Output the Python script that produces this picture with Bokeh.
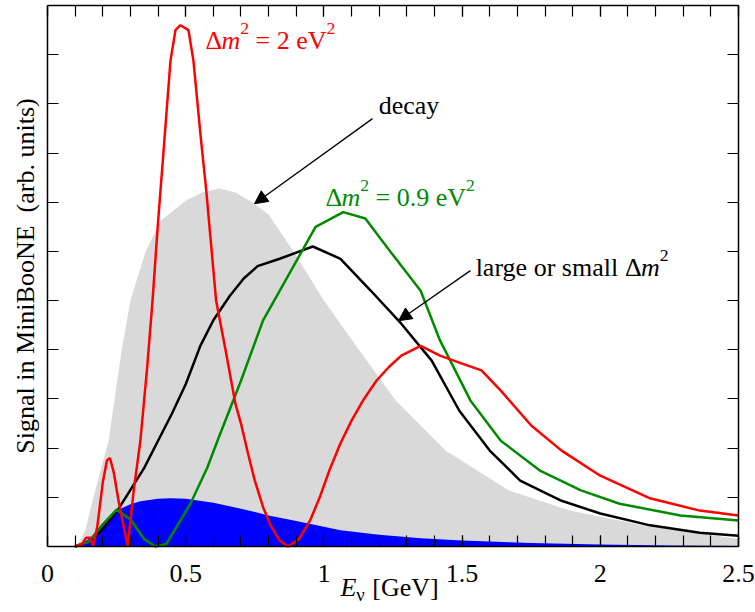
from bokeh.plotting import figure
from bokeh.models import (Range1d, LinearAxis, FixedTicker, CustomJSTickFormatter,
                          Label, Arrow, NormalHead)
from bokeh.embed import file_html
from bokeh.resources import INLINE

# ---------------- data ----------------
decay_E = [0.10, 0.12, 0.137, 0.163, 0.192, 0.221, 0.242, 0.268, 0.30, 0.355, 0.41, 0.50,
           0.56, 0.62, 0.68, 0.74, 0.80, 0.89, 1.00, 1.12, 1.26, 1.44, 1.67, 1.89, 2.15, 2.50]
decay_S = [0.0, 0.12, 0.33, 0.93, 1.54, 2.15, 2.97, 3.98, 5.0, 6.0, 6.63, 7.03,
           7.2, 7.28, 7.2, 7.0, 6.75, 6.0, 5.0, 4.05, 2.97, 1.95, 1.14, 0.73, 0.43, 0.15]

blue_E = [0.10, 0.13, 0.156, 0.19, 0.217, 0.264, 0.30, 0.336, 0.40, 0.445, 0.50, 0.60,
          0.70, 0.80, 0.90, 1.06, 1.20, 1.35, 1.50, 1.75, 2.00, 2.25, 2.50]
blue_S = [0.0, 0.08, 0.18, 0.38, 0.53, 0.77, 0.86, 0.92, 0.97, 0.98, 0.97, 0.89,
          0.77, 0.63, 0.52, 0.33, 0.24, 0.17, 0.12, 0.07, 0.04, 0.02, 0.01]

black_E = [0.10, 0.15, 0.20, 0.253, 0.30, 0.35, 0.40, 0.45, 0.50, 0.553, 0.60, 0.66,
           0.71, 0.76, 0.84, 0.96, 1.06, 1.17, 1.28, 1.39, 1.49, 1.60, 1.71, 1.86,
           2.00, 2.18, 2.36, 2.50]
black_S = [0.0, 0.1, 0.35, 0.73, 1.15, 1.6, 2.15, 2.7, 3.3, 4.08, 4.6, 5.1,
           5.45, 5.7, 5.85, 6.1, 5.85, 5.2, 4.53, 3.78, 2.76, 1.95, 1.34, 0.93,
           0.67, 0.43, 0.28, 0.22]

green_E = [0.10, 0.15, 0.20, 0.25, 0.30, 0.35, 0.39, 0.43, 0.517, 0.578, 0.615, 0.70,
           0.78, 0.88, 0.97, 1.07, 1.15, 1.24, 1.35, 1.42, 1.53, 1.64, 1.78, 1.93,
           2.07, 2.29, 2.50]
green_S = [0.0, 0.1, 0.45, 0.75, 0.55, 0.15, 0.0, 0.05, 0.87, 1.6, 2.15, 3.37,
           4.6, 5.6, 6.5, 6.8, 6.67, 6.0, 5.2, 4.19, 2.97, 2.15, 1.55, 1.14,
           0.87, 0.63, 0.53]

red_E = [0.10, 0.125, 0.14, 0.155, 0.165, 0.18, 0.20, 0.215, 0.226, 0.24, 0.258, 0.276,
         0.29, 0.312, 0.336, 0.36, 0.38, 0.40, 0.42, 0.445, 0.463, 0.481, 0.51, 0.528,
         0.553, 0.575, 0.61, 0.644, 0.68, 0.70, 0.725, 0.75, 0.78, 0.807, 0.84, 0.87,
         0.91, 0.95, 0.985, 1.02, 1.06, 1.10, 1.145, 1.19, 1.235, 1.28, 1.35, 1.42,
         1.49, 1.57, 1.64, 1.75, 1.86, 2.00, 2.18, 2.36, 2.50]
red_S = [0.0, 0.05, 0.18, 0.18, 0.0, 0.4, 1.3, 1.75, 1.8, 1.5, 0.9, 0.4,
         0.0, 1.14, 2.15, 3.6, 5.0, 6.6, 8.05, 9.88, 10.5, 10.6, 10.5, 9.88,
         8.4, 7.2, 5.0, 4.0, 2.9, 2.5, 1.9, 1.34, 0.8, 0.43, 0.12, 0.0,
         0.15, 0.53, 1.0, 1.55, 2.1, 2.56, 3.0, 3.37, 3.65, 3.88, 4.08, 3.88,
         3.74, 3.58, 3.17, 2.46, 1.95, 1.44, 0.98, 0.73, 0.63]

x_major = [0, 0.5, 1, 1.5, 2, 2.5]
x_labels = ["0", "0.5", "1", "1.5", "2", "2.5"]
x_minor = [round(0.1 * i, 1) for i in range(26)]
y_major = list(range(12))
X_MIN, X_MAX = 0.0, 2.5
Y_MIN, Y_MAX = 0.0, 11.0

FONT = "Liberation Serif"
FS = 26
W_PX, H_PX = 755, 610
# frame = whole canvas; axes are pinned at the data box edges
PX_PER_X = 276.4
PX_PER_Y = 49.18
LEFT_PX, BASE_PX = 47, 546
x_lo = -LEFT_PX / PX_PER_X
x_hi = (W_PX - LEFT_PX) / PX_PER_X
y_hi = BASE_PX / PX_PER_Y
y_lo = -(H_PX - BASE_PX) / PX_PER_Y

# ---------------- figure ----------------
p = figure(width=W_PX, height=H_PX, output_backend="svg", toolbar_location=None,
           x_range=Range1d(x_lo, x_hi), y_range=Range1d(y_lo, y_hi),
           min_border=0, min_border_left=0, min_border_right=0,
           min_border_top=0, min_border_bottom=0)
p.background_fill_color = "white"
p.border_fill_color = "white"
p.xgrid.visible = False
p.ygrid.visible = False
p.outline_line_color = None

xt = FixedTicker(ticks=x_major, minor_ticks=x_minor)
yt = FixedTicker(ticks=y_major, minor_ticks=[])
lab_map = dict(zip([str(v) for v in x_major], x_labels))
fmt = CustomJSTickFormatter(args=dict(m=lab_map), code="""
const k = String(tick); return (k in m) ? m[k] : k;""")
blank = CustomJSTickFormatter(code="return '';")


def style_axis(ax, show_labels):
    ax.axis_line_color = "black"
    ax.axis_line_width = 1.5
    ax.major_tick_line_color = "black"
    ax.minor_tick_line_color = "black"
    ax.major_tick_line_width = 1.2
    ax.minor_tick_line_width = 1.2
    ax.major_tick_in = 11
    ax.major_tick_out = 0
    ax.minor_tick_in = 11
    ax.minor_tick_out = 0
    if show_labels:
        ax.major_label_text_font = FONT
        ax.major_label_text_font_size = f"{FS}px"
        ax.major_label_text_color = "black"
    else:
        ax.formatter = blank
        ax.major_label_text_font_size = "1px"
        ax.major_label_standoff = 0


xa = p.xaxis[0]
xa.ticker = xt
xa.formatter = fmt
style_axis(xa, True)
xa.bounds = (X_MIN, X_MAX)
xa.fixed_location = Y_MIN
xa.major_label_standoff = 18

ya = p.yaxis[0]
ya.ticker = yt
style_axis(ya, False)
ya.bounds = (Y_MIN, Y_MAX)
ya.fixed_location = X_MIN
ya.axis_label = "Signal in MiniBooNE\u2002(arb. units)"
ya.axis_label_text_font = FONT
ya.axis_label_text_font_size = f"{FS}px"
ya.axis_label_text_font_style = "normal"
ya.axis_label_text_color = "black"
ya.axis_label_standoff = 8

top = LinearAxis(ticker=xt, bounds=(X_MIN, X_MAX), fixed_location=Y_MAX)
style_axis(top, False)
p.add_layout(top, "above")
right = LinearAxis(ticker=yt, bounds=(Y_MIN, Y_MAX), fixed_location=X_MAX)
style_axis(right, False)
p.add_layout(right, "right")

# ---------------- glyphs ----------------
p.varea(x=decay_E, y1=0, y2=decay_S, fill_color="#d9d9d9")
p.varea(x=blue_E, y1=0, y2=blue_S, fill_color="#0000ff")
p.line(black_E, black_S, line_color="black", line_width=2.5)
p.line(green_E, green_S, line_color="#008a00", line_width=2.5)
p.line(red_E, red_S, line_color="#ff0000", line_width=2.5)

# ---------------- rich text helper ----------------
W = {' ': 250, '=': 564, '0': 500, '2': 500, '9': 500, '.': 250, 'e': 444, 'V': 722,
     'Δ': 612, 'm': 778, 'l': 278, 'a': 444, 'r': 333, 'g': 500, 'o': 500, 's': 389,
     'c': 444, 'd': 500, 'y': 500, '[': 333, ']': 333, 'G': 722, 'E': 611, 'ν': 500}
WI = {'m': 722, 'E': 611}
BASE_SHIFT = 8   # px, raise text so its baseline sits where it is in the reference


def tw(t, italic):
    return sum((WI.get(c, W.get(c, 500)) if italic else W.get(c, 500)) for c in t) / 1000.0


def rich(x, y, pieces, color):
    off = 0.0
    for text, italic, scale, dy in pieces:
        fs = FS * scale
        lead = len(text) - len(text.lstrip(' '))
        off += lead * 0.25 * fs
        t = text.strip(' ')
        p.add_layout(Label(x=x, y=y, x_offset=off, y_offset=dy + BASE_SHIFT, text=t,
                           text_font=FONT, text_font_size=f"{fs:.1f}px",
                           text_font_style="italic" if italic else "normal",
                           text_color=color, text_baseline="alphabetic", text_align="left"))
        off += tw(t, italic) * fs
        trail = len(text) - len(text.rstrip(' '))
        off += trail * 0.25 * fs


SUP = (0.68, 12)
rich(0.572, 10.12, [("Δ", False, 1, 0), ("m", True, 1, 0), ("2", False, SUP[0], SUP[1]),
                    (" = 2 eV", False, 1, 0), ("2", False, SUP[0], SUP[1])], "#ff0000")
rich(1.006, 6.93, [("Δ", False, 1, 0), ("m", True, 1, 0), ("2", False, SUP[0], SUP[1]),
                   (" = 0.9 eV", False, 1, 0), ("2", False, SUP[0], SUP[1])], "#008a00")
rich(1.198, 8.80, [("decay", False, 1, 0)], "black")
rich(1.549, 5.51, [("large or small ", False, 1, 0), ("Δ", False, 1, 0), ("m", True, 1, 0),
                   ("2", False, SUP[0], SUP[1])], "black")
rich(1.06, -1.00, [("E", True, 1, 0), ("ν", False, 0.72, -7), (" [GeV]", False, 1, 0)], "black")

p.add_layout(Arrow(end=NormalHead(size=13, fill_color="black", line_color="black"),
                   x_start=1.176, y_start=8.70, x_end=0.749, y_end=6.97,
                   line_color="black", line_width=1.3))
p.add_layout(Arrow(end=NormalHead(size=13, fill_color="black", line_color="black"),
                   x_start=1.530, y_start=5.61, x_end=1.270, y_end=4.59,
                   line_color="black", line_width=1.3))

open("out.html", "w").write(file_html(p, INLINE))
